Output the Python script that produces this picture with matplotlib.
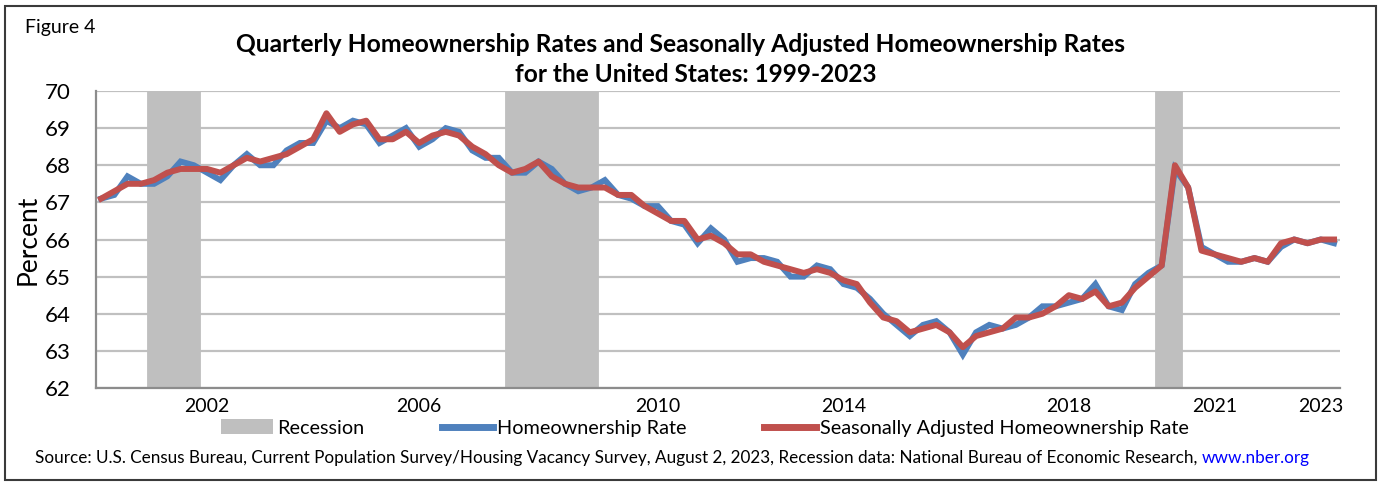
import matplotlib
matplotlib.use("Agg")
import matplotlib.pyplot as plt
from matplotlib.patches import Rectangle, Patch
from matplotlib.lines import Line2D
import numpy as np

plt.rcParams['font.family'] = ['Lato', 'DejaVu Sans']

# ---------------- data (quarterly, 2000Q1 .. 2023Q2) ----------------
years = list(range(2000, 2024))
quarters = [f"{y}Q{q}" for y in years for q in (1, 2, 3, 4)][:94]

homeownership = [
    67.1, 67.2, 67.7, 67.5,
    67.5, 67.7, 68.1, 68.0,
    67.8, 67.6, 68.0, 68.3,
    68.0, 68.0, 68.4, 68.6,
    68.6, 69.2, 69.0, 69.2,
    69.1, 68.6, 68.8, 69.0,
    68.5, 68.7, 69.0, 68.9,
    68.4, 68.2, 68.2, 67.8,
    67.8, 68.1, 67.9, 67.5,
    67.3, 67.4, 67.6, 67.2,
    67.1, 66.9, 66.9, 66.5,
    66.4, 65.9, 66.3, 66.0,
    65.4, 65.5, 65.5, 65.4,
    65.0, 65.0, 65.3, 65.2,
    64.8, 64.7, 64.4, 64.0,
    63.7, 63.4, 63.7, 63.8,
    63.5, 62.9, 63.5, 63.7,
    63.6, 63.7, 63.9, 64.2,
    64.2, 64.3, 64.4, 64.8,
    64.2, 64.1, 64.8, 65.1,
    65.3, 67.9, 67.4, 65.8,
    65.6, 65.4, 65.4, 65.5,
    65.4, 65.8, 66.0, 65.9,
    66.0, 65.9,
]

seasonally_adjusted = [
    67.1, 67.3, 67.5, 67.5,
    67.6, 67.8, 67.9, 67.9,
    67.9, 67.8, 68.0, 68.2,
    68.1, 68.2, 68.3, 68.5,
    68.7, 69.4, 68.9, 69.1,
    69.2, 68.7, 68.7, 68.9,
    68.6, 68.8, 68.9, 68.8,
    68.5, 68.3, 68.0, 67.8,
    67.9, 68.1, 67.7, 67.5,
    67.4, 67.4, 67.4, 67.2,
    67.2, 66.9, 66.7, 66.5,
    66.5, 66.0, 66.1, 65.9,
    65.6, 65.6, 65.4, 65.3,
    65.2, 65.1, 65.2, 65.1,
    64.9, 64.8, 64.3, 63.9,
    63.8, 63.5, 63.6, 63.7,
    63.5, 63.1, 63.4, 63.5,
    63.6, 63.9, 63.9, 64.0,
    64.2, 64.5, 64.4, 64.6,
    64.2, 64.3, 64.7, 65.0,
    65.3, 68.0, 67.4, 65.7,
    65.6, 65.5, 65.4, 65.5,
    65.4, 65.9, 66.0, 65.9,
    66.0, 66.0,
]

# 1 = quarter in an NBER recession
recession = [
    0, 0, 0, 0,
    1, 1, 1, 1,
    0, 0, 0, 0,
    0, 0, 0, 0,
    0, 0, 0, 0,
    0, 0, 0, 0,
    0, 0, 0, 0,
    0, 0, 0, 1,
    1, 1, 1, 1,
    1, 1, 0, 0,
    0, 0, 0, 0,
    0, 0, 0, 0,
    0, 0, 0, 0,
    0, 0, 0, 0,
    0, 0, 0, 0,
    0, 0, 0, 0,
    0, 0, 0, 0,
    0, 0, 0, 0,
    0, 0, 0, 0,
    0, 0, 0, 0,
    1, 1, 0, 0,
    0, 0, 0, 0,
    0, 0, 0, 0,
    0, 0,
]

tick_quarters = ["2002Q1", "2006Q1", "2010Q3", "2014Q1", "2018Q2", "2021Q1", "2023Q1"]
tick_labels = ["2002", "2006", "2010", "2014", "2018", "2021", "2023"]
y_ticks = [62, 63, 64, 65, 66, 67, 68, 69, 70]

# ---------------- figure ----------------
W, H = 1380, 483
fig = plt.figure(figsize=(W / 100, H / 100), dpi=100)
ax = fig.add_axes([96 / W, 1 - 388 / H, (1340 - 96) / W, (388 - 91) / H])

x = np.arange(len(quarters))
ymin, ymax = 62, 70
rec = np.array(recession)
ax.bar(x, rec * (ymax - ymin), bottom=ymin, width=1.0, color="#BFBFBF",
       edgecolor="#BFBFBF", linewidth=0.6, zorder=2)

blue = "#4F81BD"
red = "#C0504D"
ax.plot(x, homeownership, color=blue, lw=4.3, solid_joinstyle="miter", zorder=3)
ax.plot(x, seasonally_adjusted, color=red, lw=4.3, solid_joinstyle="round", zorder=4)

ax.set_xlim(-0.38, 93.45)
ax.set_ylim(ymin, ymax)
ax.set_yticks(y_ticks)
ax.set_yticklabels([str(v) for v in y_ticks])
ax.set_xticks([quarters.index(q) for q in tick_quarters])
ax.set_xticklabels(tick_labels)
ax.tick_params(axis="y", length=0, pad=18, labelsize=16)
ax.tick_params(axis="x", length=0, pad=7, labelsize=14)
ax.grid(axis="y", color="#C0C0C0", lw=1.6, zorder=1)
ax.set_axisbelow(True)
for s in ("top", "right"):
    ax.spines[s].set_visible(False)
for s in ("left", "bottom"):
    ax.spines[s].set_color("#8C8C8C")
    ax.spines[s].set_linewidth(1.6)
    ax.spines[s].set_zorder(5)

# titles and labels
fig.text(25 / W, 1 - 27 / H, "Figure 4", fontsize=14, ha="left", va="center")
fig.text(680 / W, 1 - 44 / H,
         "Quarterly Homeownership Rates and Seasonally Adjusted Homeownership Rates",
         fontsize=17.7, fontweight="bold", ha="center", va="center")
fig.text(696 / W, 1 - 75 / H, "for the United States: 1999-2023",
         fontsize=17.6, fontweight="bold", ha="center", va="center")
fig.text(28 / W, 1 - 240 / H, "Percent", fontsize=19, rotation=90,
         ha="center", va="center")

# legend
handles = [Patch(facecolor="#BFBFBF", edgecolor="none"),
           Line2D([], [], color=blue, lw=5),
           Line2D([], [], color=red, lw=5)]
labels = ["Recession", "Homeownership Rate", "Seasonally Adjusted Homeownership Rate"]
fig.legend(handles, labels, ncol=3, loc="center", bbox_to_anchor=(705 / W, 1 - 428 / H),
           frameon=False, fontsize=14.3, handlelength=2.6, handleheight=0.8,
           handletextpad=0.2, columnspacing=3.9, borderpad=0, borderaxespad=0)

# source line
src = fig.text(35 / W, 1 - 458 / H,
               "Source: U.S. Census Bureau, Current Population Survey/Housing Vacancy Survey, "
               "August 2, 2023, Recession data: National Bureau of Economic Research, ",
               fontsize=12.3, ha="left", va="center")
fig.canvas.draw()
bb = src.get_window_extent()
fig.text(bb.x1 / W, 1 - 458 / H, "www.nber.org", fontsize=12.3, color="#0000FF",
         ha="left", va="center")

# outer frame
fig.patches.append(Rectangle((5 / W, 1 - 480 / H), (1376 - 5) / W, (480 - 6) / H,
                             transform=fig.transFigure, fill=False,
                             edgecolor="#3A3A3A", lw=1.5))

fig.savefig("out.png", dpi=100)
